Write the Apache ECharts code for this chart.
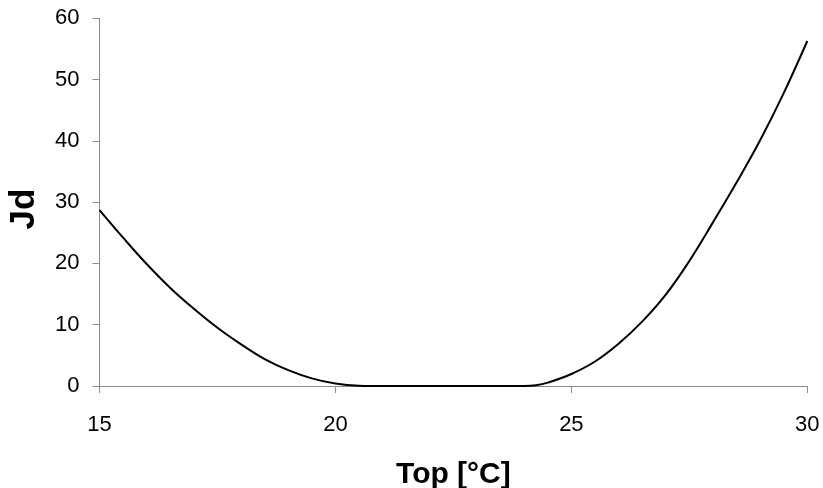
<!DOCTYPE html>
<html>
<head>
<meta charset="utf-8">
<script src="https://cdn.jsdelivr.net/npm/echarts@6/dist/echarts.min.js"></script>
<style>
html,body{margin:0;padding:0;background:#fff;}
#chart{width:823px;height:488px;}
</style>
</head>
<body>
<div id="chart"></div>
<script>
var xValues = [15, 15.5, 16, 16.5, 17, 17.5, 18, 18.5, 19, 19.5, 20, 20.5, 20.75, 21, 21.5, 22, 22.5, 23, 23.5, 24, 24.25, 24.5, 25, 25.5, 26, 26.5, 27, 27.5, 28, 28.5, 29, 29.5, 30];
var jdValues = [28.7, 24.2, 19.9, 16.0, 12.6, 9.5, 6.8, 4.4, 2.6, 1.25, 0.4, 0.03, 0, 0, 0, 0, 0, 0, 0, 0, 0.12, 0.55, 1.96, 4.0, 6.9, 10.5, 14.9, 20.4, 26.7, 33.2, 40.1, 47.8, 56.3];
var xTicks = [15, 20, 25, 30];
var yTicks = [0, 10, 20, 30, 40, 50, 60];

var seriesData = xValues.map(function (x, i) { return [x, jdValues[i]]; });

var chart = echarts.init(document.getElementById('chart'), null, {renderer: 'canvas'});
var axisColor = '#8c8c8c';
chart.setOption({
  animation: false,
  backgroundColor: '#ffffff',
  grid: {left: 99.5, right: 15.7, top: 18.3, bottom: 102, containLabel: false, outerBoundsMode: 'none'},
  xAxis: {
    type: 'value',
    min: xTicks[0],
    max: xTicks[xTicks.length - 1],
    interval: 5,
    name: 'Top [°C]',
    nameLocation: 'middle',
    nameGap: 74,
    nameTextStyle: {fontFamily: 'Liberation Sans, Arial', fontWeight: 'bold', fontSize: 30, color: '#000'},
    axisLine: {show: true, lineStyle: {color: axisColor, width: 1}},
    axisTick: {show: true, length: 7, inside: false, lineStyle: {color: axisColor}},
    axisLabel: {fontFamily: 'Liberation Sans, Arial', fontSize: 22, color: '#000', margin: 28},
    splitLine: {show: false}
  },
  yAxis: {
    type: 'value',
    min: yTicks[0],
    max: yTicks[yTicks.length - 1],
    interval: 10,
    name: 'Jd',
    nameLocation: 'middle',
    nameGap: 58,
    nameRotate: 90,
    nameTextStyle: {fontFamily: 'Liberation Sans, Arial', fontWeight: 'bold', fontSize: 35, color: '#000', padding: [0, 14, 0, 0]},
    axisLine: {show: true, lineStyle: {color: axisColor, width: 1}},
    axisTick: {show: true, length: 7, inside: false, lineStyle: {color: axisColor}},
    axisLabel: {fontFamily: 'Liberation Sans, Arial', fontSize: 22, color: '#000', margin: 20},
    splitLine: {show: false}
  },
  series: [{
    type: 'line',
    data: seriesData,
    smooth: 0.4,
    showSymbol: false,
    symbol: 'none',
    lineStyle: {color: '#000', width: 2}
  }]
});
</script>
</body>
</html>
